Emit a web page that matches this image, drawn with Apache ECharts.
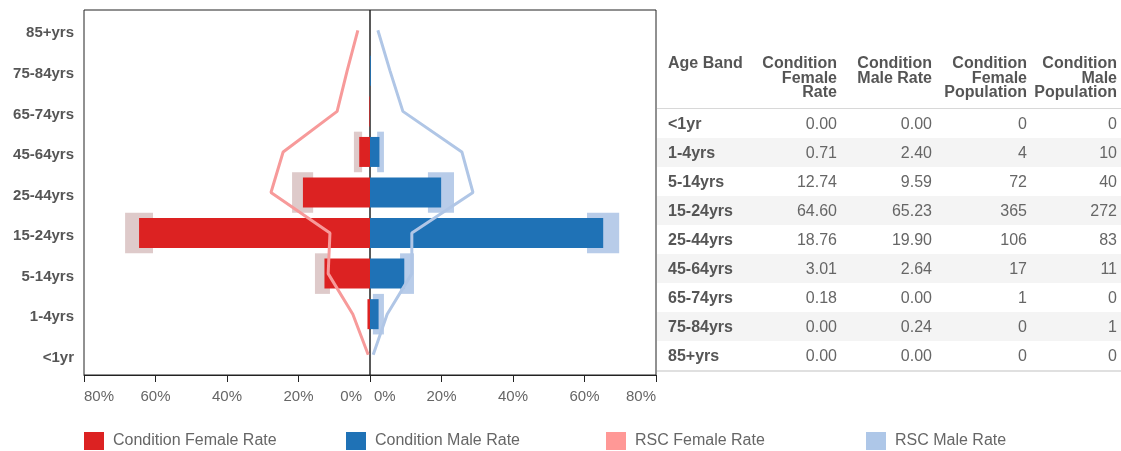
<!DOCTYPE html>
<html>
<head>
<meta charset="utf-8">
<script src="https://cdn.jsdelivr.net/npm/echarts@6/dist/echarts.min.js"></script>
<style>
  html, body { margin: 0; padding: 0; background: #fff; }
  #wrap { position: relative; width: 1121px; height: 451px; overflow: hidden; }
  #chart { position: absolute; left: 0; top: 0; width: 1121px; height: 451px; }
  #tbl { position: absolute; left: 657px; top: 56px; width: 464px; font-family: Arial, "Liberation Sans", sans-serif; }
  .row { display: flex; width: 464px; }
  .hdr { height: 52px; border-bottom: 1px solid #d8d8d8; font-weight: bold; color: #555; font-size: 16px; line-height: 14.5px; align-items: flex-start; }
  .drow { height: 29px; line-height: 29px; font-size: 16px; color: #666; }
  .drow.alt { background: #f4f4f4; }
  .c0 { width: 84px; padding-left: 11px; text-align: left; }
  .c1 { width: 85px; padding-right: 4px; text-align: right; }
  .c2 { width: 91px; padding-right: 4px; text-align: right; }
  .c3 { width: 91px; padding-right: 4px; text-align: right; }
  .c4 { width: 86px; padding-right: 4px; text-align: right; }
  .drow .c0 { font-weight: bold; color: #555; }
  .bottom { height: 0; border-top: 2px solid #e0e0e0; }
</style>
</head>
<body>
<div id="wrap">
  <div id="chart"></div>
  <div id="tbl"></div>
</div>
<script>
// ---- data ----
const ages = ['<1yr', '1-4yrs', '5-14yrs', '15-24yrs', '25-44yrs', '45-64yrs', '65-74yrs', '75-84yrs', '85+yrs'];
const femaleRate = [0.00, 0.71, 12.74, 64.60, 18.76, 3.01, 0.18, 0.00, 0.00];
const maleRate = [0.00, 2.40, 9.59, 65.23, 19.90, 2.64, 0.00, 0.24, 0.00];
const femalePop = [0, 4, 72, 365, 106, 17, 1, 0, 0];
const malePop = [0, 10, 40, 272, 83, 11, 0, 1, 0];
const rscFemaleRate = [0.5, 4.8, 11.7, 11.2, 27.7, 24.3, 9.2, 6.4, 3.4];
const rscMaleRate = [0.9, 4.8, 11.7, 11.7, 28.8, 25.7, 9.2, 5.6, 2.2];
const femaleCILow = [null, null, 11.2, 60.7, 15.9, 2.2, null, null, null];
const femaleCIHigh = [null, null, 15.4, 68.5, 21.8, 4.5, null, null, null];
const maleCILow = [null, 0.8, 8.4, 60.7, 16.2, 2.0, null, null, null];
const maleCIHigh = [null, 3.9, 12.3, 69.7, 23.5, 3.9, null, null, null];
const xTicks = [0, 20, 40, 60, 80];
const tableHeaders = ['Age Band', 'Condition<br>Female<br>Rate', 'Condition<br>Male Rate', 'Condition<br>Female<br>Population', 'Condition<br>Male<br>Population'];

// ---- table ----
(function () {
  let html = '<div class="row hdr">';
  tableHeaders.forEach((h, i) => { html += '<div class="c' + i + '">' + h + '</div>'; });
  html += '</div>';
  ages.forEach((a, i) => {
    html += '<div class="row drow' + (i % 2 === 1 ? ' alt' : '') + '">' +
      '<div class="c0">' + a.replace('<', '&lt;') + '</div>' +
      '<div class="c1">' + femaleRate[i].toFixed(2) + '</div>' +
      '<div class="c2">' + maleRate[i].toFixed(2) + '</div>' +
      '<div class="c3">' + femalePop[i] + '</div>' +
      '<div class="c4">' + malePop[i] + '</div></div>';
  });
  html += '<div class="bottom"></div>';
  document.getElementById('tbl').innerHTML = html;
})();

// ---- chart ----
const FONT = 'Arial, "Liberation Sans", sans-serif';
function ciData(lo, hi) {
  const out = [];
  ages.forEach((a, i) => { if (lo[i] != null && hi[i] != null) out.push([i, lo[i], hi[i]]); });
  return out;
}
function ciRender(color) {
  return function (params, api) {
    const cat = api.value(0), lo = api.value(1), hi = api.value(2);
    const p1 = api.coord([lo, cat]);
    const p2 = api.coord([hi, cat]);
    const h = api.size([0, 1])[1];
    return {
      type: 'rect',
      shape: { x: Math.min(p1[0], p2[0]), y: p1[1] - h / 2, width: Math.abs(p2[0] - p1[0]), height: h },
      style: { fill: color }
    };
  };
}
function pct(side) {
  return function (v) { return v === 0 ? '{' + side + '|0%}' : v + '%'; };
}
const labelBase = { color: '#666', fontSize: 15, fontFamily: FONT, margin: 14 };
const xAxisCommon = {
  type: 'value', min: xTicks[0], max: xTicks[xTicks.length - 1], interval: xTicks[1] - xTicks[0],
  splitLine: { show: false },
  axisLine: { show: true, lineStyle: { color: '#222', width: 1 } },
  axisTick: { show: true, length: 7, lineStyle: { color: '#222' } }
};
const legendCommon = {
  top: 432, padding: 0, itemWidth: 20, itemHeight: 18, icon: 'rect',
  textStyle: { fontSize: 16, color: '#666', fontFamily: FONT, padding: [0, 0, 0, 4] }
};

const chart = echarts.init(document.getElementById('chart'), null, { renderer: 'canvas' });
chart.setOption({
  animation: false,
  backgroundColor: '#fff',
  grid: [
    { left: 84, top: 10, width: 286, height: 365, show: true, borderColor: '#222', borderWidth: 1, containLabel: false },
    { left: 370, top: 10, width: 286, height: 365, show: true, borderColor: '#222', borderWidth: 1, containLabel: false }
  ],
  xAxis: [
    Object.assign({}, xAxisCommon, { gridIndex: 0, inverse: true,
      axisLabel: Object.assign({}, labelBase, { formatter: pct('l'), alignMinLabel: 'right', alignMaxLabel: 'left',
        rich: { l: { color: '#666', fontSize: 15, fontFamily: FONT, padding: [0, 8, 0, 0] } } }) }),
    Object.assign({}, xAxisCommon, { gridIndex: 1,
      axisLabel: Object.assign({}, labelBase, { formatter: pct('r'), alignMinLabel: 'left', alignMaxLabel: 'right',
        rich: { r: { color: '#666', fontSize: 15, fontFamily: FONT, padding: [0, 0, 0, 4] } } }) })
  ],
  yAxis: [
    { type: 'category', gridIndex: 0, data: ages, axisLine: { show: false }, axisTick: { show: false },
      axisLabel: { margin: 10, formatter: function (v) { return '{a|' + v.replace('<', '<') + '}'; },
        rich: { a: { color: '#555', fontSize: 15, fontWeight: 'bold', fontFamily: FONT, padding: [6, 0, 0, 0] } } } },
    { type: 'category', gridIndex: 1, data: ages, axisLine: { show: false }, axisTick: { show: false },
      axisLabel: { show: false } }
  ],
  legend: [
    Object.assign({}, legendCommon, { left: 84, data: ['Condition Female Rate'] }),
    Object.assign({}, legendCommon, { left: 346, data: ['Condition Male Rate'] }),
    Object.assign({}, legendCommon, { left: 606, data: ['RSC Female Rate'] }),
    Object.assign({}, legendCommon, { left: 866, data: ['RSC Male Rate'] })
  ],
  series: [
    { type: 'custom', name: 'Female CI', xAxisIndex: 0, yAxisIndex: 0, z: 1, silent: true,
      renderItem: ciRender('#decaca'), data: ciData(femaleCILow, femaleCIHigh), encode: { x: [1, 2], y: 0 } },
    { type: 'custom', name: 'Male CI', xAxisIndex: 1, yAxisIndex: 1, z: 1, silent: true,
      renderItem: ciRender('#b8cce9'), data: ciData(maleCILow, maleCIHigh), encode: { x: [1, 2], y: 0 } },
    { type: 'bar', name: 'Condition Female Rate', xAxisIndex: 0, yAxisIndex: 0, z: 2, barWidth: 30,
      itemStyle: { color: '#dc2222' }, data: femaleRate },
    { type: 'bar', name: 'Condition Male Rate', xAxisIndex: 1, yAxisIndex: 1, z: 2, barWidth: 30,
      itemStyle: { color: '#1f72b6' }, data: maleRate },
    { type: 'line', name: 'RSC Female Rate', xAxisIndex: 0, yAxisIndex: 0, z: 3, symbol: 'none',
      lineStyle: { color: '#f79a9a', width: 3 }, itemStyle: { color: '#ff9896' }, data: rscFemaleRate },
    { type: 'line', name: 'RSC Male Rate', xAxisIndex: 1, yAxisIndex: 1, z: 3, symbol: 'none',
      lineStyle: { color: '#b0c6e6', width: 3 }, itemStyle: { color: '#aec7e8' }, data: rscMaleRate }
  ]
});
</script>
</body>
</html>
